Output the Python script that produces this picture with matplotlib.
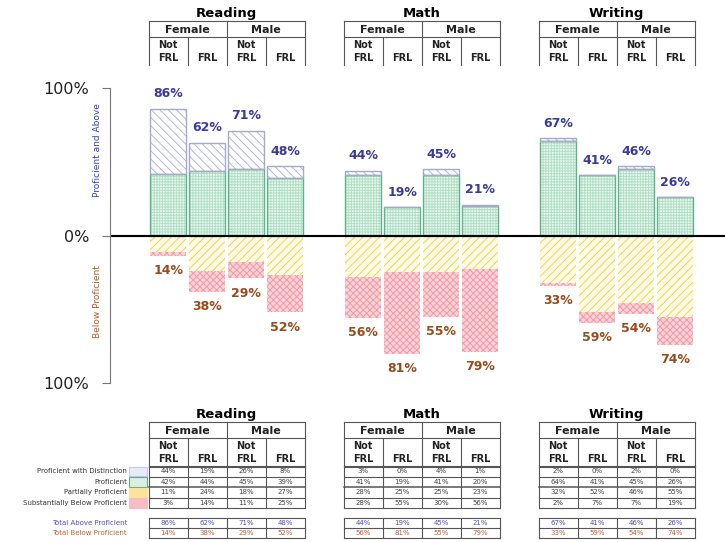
import numpy as np
import matplotlib
matplotlib.use("Agg")
import matplotlib.pyplot as plt
from matplotlib.patches import Rectangle
from matplotlib.transforms import blended_transform_factory

plt.rcParams['font.family'] = ['DejaVu Sans']
plt.rcParams['hatch.linewidth'] = 0.7

subjects = ['Reading', 'Math', 'Writing']
genders = ['Female', 'Male']
frl_labels = ['Not\nFRL', 'FRL', 'Not\nFRL', 'FRL']
levels = ['Proficient with Distinction', 'Proficient',
          'Partially Proficient', 'Substantially Below Proficient']

distinction = [[44, 19, 26, 8], [3, 0, 4, 1], [2, 0, 2, 0]]
proficient = [[42, 44, 45, 39], [41, 19, 41, 20], [64, 41, 45, 26]]
partial = [[11, 24, 18, 27], [28, 25, 25, 23], [32, 52, 46, 55]]
substantial = [[3, 14, 11, 25], [28, 55, 30, 56], [2, 7, 7, 19]]
total_above = [[86, 62, 71, 48], [44, 19, 45, 21], [67, 41, 46, 26]]
total_below = [[14, 38, 29, 52], [56, 81, 55, 79], [33, 59, 54, 74]]

blue_txt = '#3a3a9c'
brown_txt = '#9c4a1c'

fig = plt.figure(figsize=(7.25, 5.42), dpi=100)
ax = fig.add_axes([110 / 725, 1 - 383 / 542, 615 / 725, 295 / 542])
ax.patch.set_alpha(0)

# overlay in pixel coords for the tables / side labels
ov = fig.add_axes([0, 0, 1, 1], zorder=-1)
ov.set_autoscale_on(False)
ov.set_xlim(0, 725)
ov.set_ylim(542, 0)
ov.axis('off')

width = 0.92
group_x = [0, 5, 10]

for g in range(3):
    x = np.arange(4) + group_x[g]
    d = np.array(distinction[g])
    p = np.array(proficient[g])
    pp = np.array(partial[g])
    sb = np.array(substantial[g])

    # fills with hatching
    ax.bar(x, p, width, color='#eaf7ef', edgecolor='#b2e0c6', hatch='++++++', lw=0)
    ax.bar(x, d, width, bottom=p, color='white', edgecolor='#b4b4e6', hatch='\\\\\\\\', lw=0)
    ax.bar(x, -pp, width, color='#fffbe6', edgecolor='#f4d24a', hatch='////', lw=0)
    ax.bar(x, -sb, width, bottom=-pp, color='#fcd3d8', edgecolor='#f29aa4', hatch='xxxxx', lw=0)

    # outlines
    ax.bar(x, p, width, fill=False, edgecolor='#62b08e', lw=1)
    ax.bar(x, d, width, bottom=p, fill=False, edgecolor='#a8a8c8', lw=1)

    for i in range(4):
        ax.annotate(f'{total_above[g][i]}%', (x[i], d[i] + p[i]), xytext=(0, 6),
                    textcoords='offset points', ha='center', va='bottom',
                    fontsize=9, fontweight='bold', color=blue_txt, annotation_clip=False)
        ax.annotate(f'{total_below[g][i]}%', (x[i], -(pp[i] + sb[i])), xytext=(0, -6),
                    textcoords='offset points', ha='center', va='top',
                    fontsize=9, fontweight='bold', color=brown_txt, annotation_clip=False)

ax.axhline(0, color='black', lw=1.5)
ax.set_xlim(-1.49, 14.28)
ax.set_ylim(-100, 100)
for s in ['top', 'right', 'bottom']:
    ax.spines[s].set_visible(False)
ax.spines['left'].set_color('#777777')
ax.set_xticks([])
ax.set_yticks([-100, 0, 100])
ax.set_yticklabels(['100%', '0%', '100%'], fontsize=11.5, color='#222222')
ax.tick_params(axis='y', length=6, color='#777777', pad=9)

ov.text(98, 150, 'Proficient and Above', rotation=90, ha='center', va='center',
        fontsize=6.5, color='#3c3cb4')
ov.text(98, 302, 'Below Proficient', rotation=90, ha='center', va='center',
        fontsize=6.5, color='#b45a1e')

trans = blended_transform_factory(ax.transData, ov.transData)
lc = '#555555'


def hline(x1, x2, y, lw=0.8):
    ov.plot([x1, x2], [y, y], color=lc, lw=lw, transform=trans, clip_on=False)


def vline(x, y1, y2, lw=0.8):
    ov.plot([x, x], [y1, y2], color=lc, lw=lw, transform=trans, clip_on=False)


def draw_header(g, y0, closed):
    x0 = group_x[g]
    L, M, R = x0 - 0.5, x0 + 1.5, x0 + 3.5
    ov.text(x0 + 1.5, y0 - 4, subjects[g], transform=trans, ha='center', va='baseline',
            fontsize=9.5, fontweight='bold')
    hline(L, R, y0)
    hline(L, R, y0 + 16)
    for xv in [L, M, R]:
        vline(xv, y0, y0 + 44)
    for xv in [x0 + 0.5, x0 + 2.5]:
        vline(xv, y0 + 16, y0 + 44)
    for k in range(2):
        ov.text(x0 + 0.5 + 2 * k, y0 + 9, genders[k], transform=trans, ha='center',
                va='center', fontsize=8, fontweight='bold', color='#222222')
    for i in range(4):
        ov.text(x0 + i, y0 + 37, frl_labels[i].split('\n')[-1], transform=trans,
                ha='center', va='center', fontsize=7, fontweight='bold', color='#222222')
        if frl_labels[i].startswith('Not'):
            ov.text(x0 + i, y0 + 24, 'Not', transform=trans, ha='center', va='center',
                    fontsize=7, fontweight='bold', color='#222222')
    if closed:
        hline(L, R, y0 + 45)


# top header tables
for g in range(3):
    draw_header(g, 21, False)

# bottom tables
row_top = 466
row_h = 10.5
tot_top = 518
tot_h = 10
for g in range(3):
    draw_header(g, 422, True)
    x0 = group_x[g]
    L, R = x0 - 0.5, x0 + 3.5
    rows = [distinction[g], proficient[g], partial[g], substantial[g]]
    for r in range(5):
        hline(L, R, row_top + r * row_h, lw=1.1 if r == 2 else 0.8)
    for i in range(5):
        vline(x0 - 0.5 + i, row_top, row_top + 4 * row_h)
    for r, vals in enumerate(rows):
        for i, v in enumerate(vals):
            ov.text(x0 + i, row_top + (r + 0.5) * row_h, f'{v}%', transform=trans,
                    ha='center', va='center', fontsize=5, color='#444444')
    for r in range(3):
        hline(L, R, tot_top + r * tot_h)
    for i in range(5):
        vline(x0 - 0.5 + i, tot_top, tot_top + 2 * tot_h)
    for i in range(4):
        ov.text(x0 + i, tot_top + 0.5 * tot_h, f'{total_above[g][i]}%', transform=trans,
                ha='center', va='center', fontsize=5, color='#5050c0')
        ov.text(x0 + i, tot_top + 1.5 * tot_h, f'{total_below[g][i]}%', transform=trans,
                ha='center', va='center', fontsize=5, color='#c06030')

# legend on the left of bottom tables
swatch_fc = ['#e8eaf8', '#d8efe2', '#fbe39a', '#f8bcc4']
swatch_ec = ['#c8c8e8', '#5fae8a', '#fbe39a', '#f8bcc4']
for r, name in enumerate(levels):
    yc = row_top + (r + 0.5) * row_h
    ov.text(127, yc, name, ha='right', va='center', fontsize=5, color='#333333')
    ov.add_patch(Rectangle((129, row_top + r * row_h + 0.5), 18, row_h - 1,
                           facecolor=swatch_fc[r], edgecolor=swatch_ec[r], lw=0.8))
ov.text(127, tot_top + 0.5 * tot_h, 'Total Above Proficient', ha='right', va='center',
        fontsize=5, color='#5050c0')
ov.text(127, tot_top + 1.5 * tot_h, 'Total Below Proficient', ha='right', va='center',
        fontsize=5, color='#c06030')

fig.savefig('out.png', dpi=100)
